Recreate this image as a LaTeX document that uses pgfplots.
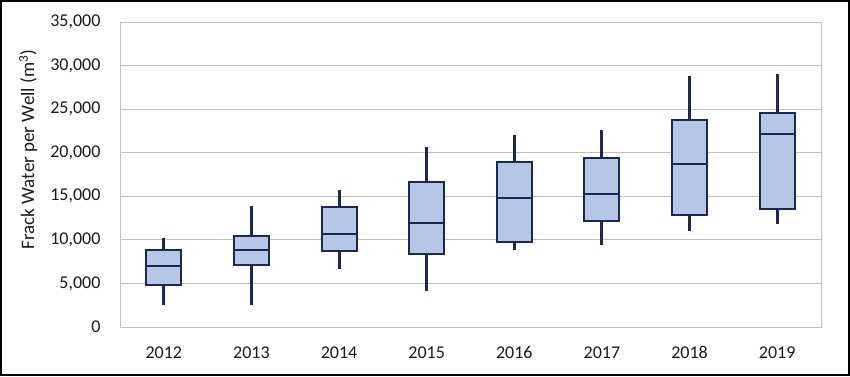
\documentclass[border=0pt]{standalone}
\usepackage{fontspec}
\setmainfont{Carlito}
\usepackage{pgfplots}
\pgfplotsset{compat=1.18}
\definecolor{boxfill}{HTML}{B4C7E7}
\definecolor{boxedge}{HTML}{1A2857}
\definecolor{gridc}{HTML}{BFBFBF}
\definecolor{txt}{HTML}{1A1A1A}
% #1 centre, #2 left, #3 right, #4 lower whisker, #5 lower quartile, #6 median, #7 upper quartile, #8 upper whisker
\newcommand{\bx}[8]{%
  \addplot[draw=boxedge, line width=3pt, forget plot] coordinates {(#1,#4) (#1,#5)};
  \addplot[draw=boxedge, line width=3pt, forget plot] coordinates {(#1,#7) (#1,#8)};
  \addplot[draw=boxedge, fill=boxfill, line width=2pt, forget plot] coordinates {(#2,#5) (#3,#5) (#3,#7) (#2,#7)} --cycle;
  \addplot[draw=boxedge, line width=2pt, forget plot] coordinates {(#2,#6) (#3,#6)};
}
\begin{document}
\begin{tikzpicture}
\useasboundingbox (0pt,0pt) rectangle (850pt,376pt);
\draw[line width=2pt] (1pt,1pt) rectangle (849pt,375pt);
\begin{axis}[at={(120pt,49pt)}, anchor=south west, scale only axis,
  width=701pt, height=305pt,
  xmin=-0.5, xmax=7.5, ymin=0, ymax=35000,
  xtick={0,...,7},
  xticklabels={2012,2013,2014,2015,2016,2017,2018,2019},
  ytick={0,5000,10000,15000,20000,25000,30000,35000},
  ymajorgrids, major grid style={draw=gridc, line width=1pt},
  axis line style={draw=gridc, line width=1pt},
  tick style={draw=none},
  scaled y ticks=false,
  /pgf/number format/1000 sep={,},
  /pgf/number format/assume math mode=true,
  ticklabel style={font=\fontsize{18}{20}\selectfont, text=txt},
  yticklabel style={xshift=-16pt},
  xticklabel style={yshift=-16pt},
  ylabel={Frack Water per Well (m\textsuperscript{3})},
  ylabel style={font=\fontsize{19}{21}\selectfont, text=txt, at={(axis description cs:-0.131,0.582)}, anchor=center},
]
\bx{0}{-0.2}{0.2}{2560}{4780}{7030}{8840}{10250}
\bx{1}{0.8}{1.2}{2560}{7080}{8870}{10500}{13900}
\bx{2}{1.8}{2.2}{6620}{8680}{10700}{13770}{15700}
\bx{3}{2.8}{3.2}{4130}{8410}{11900}{16640}{20660}
\bx{4}{3.8}{4.2}{8840}{9790}{14840}{18970}{22000}
\bx{5}{4.8}{5.2}{9410}{12160}{15230}{19390}{22570}
\bx{6}{5.8}{6.2}{11050}{12890}{18670}{23720}{28770}
\bx{7}{6.8}{7.2}{11850}{13500}{22110}{24590}{29030}
\end{axis}
\end{tikzpicture}
\end{document}
